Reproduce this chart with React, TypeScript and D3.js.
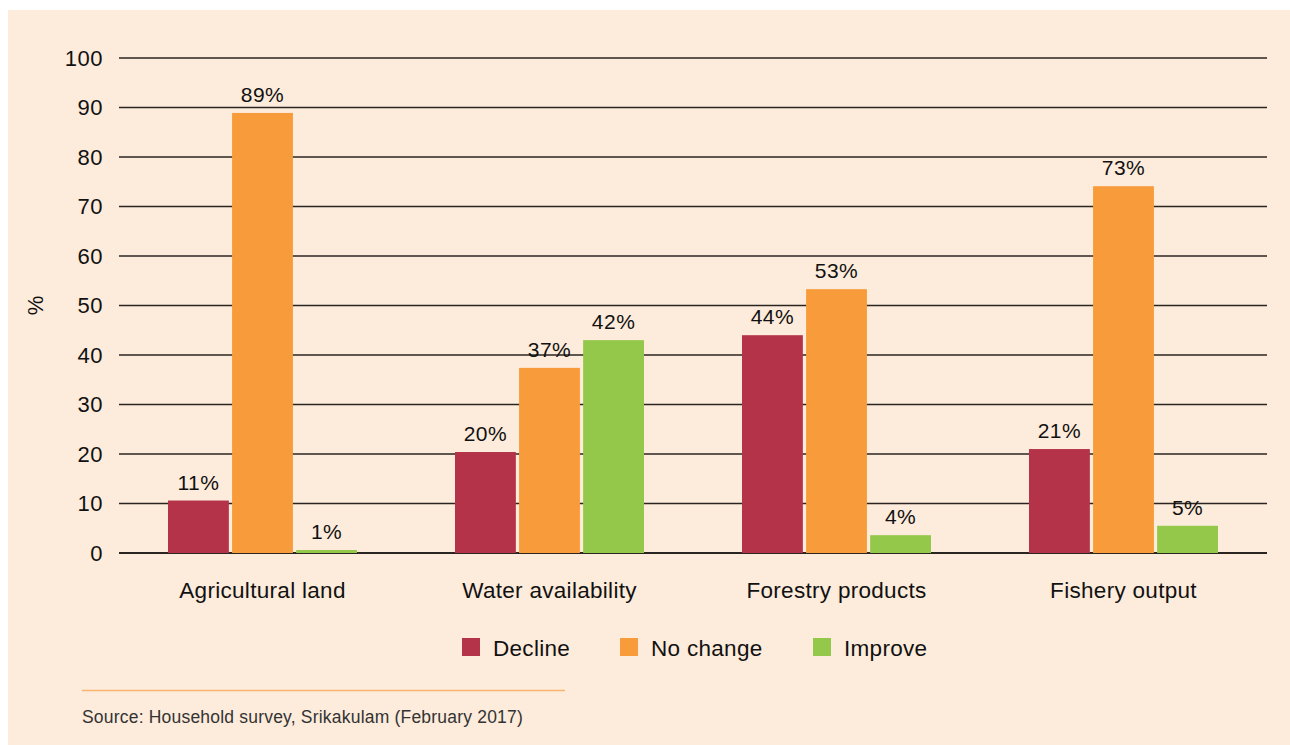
import React, { useEffect, useRef } from 'react';
import * as d3 from 'd3';

const categories = ['Agricultural land', 'Water availability', 'Forestry products', 'Fishery output'];
const seriesNames = ['Decline', 'No change', 'Improve'];
const seriesColors = ['#b43349', '#f89c3b', '#93c84a'];

// bar heights
const declineValues = [10.6, 20.4, 44.0, 21.0];
const noChangeValues = [88.9, 37.4, 53.3, 74.1];
const improveValues = [0.6, 43.0, 3.6, 5.5];

// printed labels
const declineLabels = ['11%', '20%', '44%', '21%'];
const noChangeLabels = ['89%', '37%', '53%', '73%'];
const improveLabels = ['1%', '42%', '4%', '5%'];

const yTicks = [0, 10, 20, 30, 40, 50, 60, 70, 80, 90, 100];
const sourceText = 'Source: Household survey, Srikakulam (February 2017)';

const WIDTH = 1290;
const HEIGHT = 745;
const FONT = '"Liberation Sans", Arial, sans-serif';

const App: React.FC = () => {
  const svgRef = useRef<SVGSVGElement>(null);

  useEffect(() => {
    if (!svgRef.current) return;
    const svg = d3.select(svgRef.current);
    svg.selectAll('*').remove();

    const margin = { top: 58, right: 23, bottom: 192, left: 119 };
    const innerWidth = WIDTH - margin.left - margin.right;
    const innerHeight = HEIGHT - margin.top - margin.bottom;

    // background panel
    svg.append('rect')
      .attr('x', 8)
      .attr('y', 10)
      .attr('width', WIDTH - 8)
      .attr('height', HEIGHT - 10)
      .attr('fill', '#fdebdb');

    const x0 = d3.scaleBand<string>()
      .domain(categories)
      .range([0, innerWidth])
      .padding(0);

    const x1 = d3.scaleBand<string>()
      .domain(seriesNames)
      .range([49, x0.bandwidth() - 49])
      .paddingInner(0.05);

    const y = d3.scaleLinear()
      .domain([0, 100])
      .range([innerHeight, 0]);

    const g = svg.append('g')
      .attr('transform', `translate(${margin.left},${margin.top})`);

    // grid lines
    g.append('g')
      .selectAll('line')
      .data(yTicks)
      .enter().append('line')
      .attr('x1', 0)
      .attr('x2', innerWidth)
      .attr('y1', d => y(d))
      .attr('y2', d => y(d))
      .attr('stroke', '#2b2522')
      .attr('stroke-width', d => (d === 0 ? 1.8 : 1.4));

    // y tick labels
    g.append('g')
      .selectAll('text')
      .data(yTicks)
      .enter().append('text')
      .attr('x', -16)
      .attr('y', d => y(d))
      .attr('dy', '0.35em')
      .attr('text-anchor', 'end')
      .style('font-family', FONT)
      .style('font-size', '22px')
      .style('letter-spacing', '0.5px')
      .style('fill', '#111')
      .text(d => d);

    // y axis label
    svg.append('text')
      .attr('transform', `translate(43,${margin.top + y(50)}) rotate(-90)`)
      .attr('text-anchor', 'middle')
      .style('font-family', FONT)
      .style('font-size', '22px')
      .style('fill', '#111')
      .text('%');

    const series = [
      { name: seriesNames[0], values: declineValues, labels: declineLabels, color: seriesColors[0] },
      { name: seriesNames[1], values: noChangeValues, labels: noChangeLabels, color: seriesColors[1] },
      { name: seriesNames[2], values: improveValues, labels: improveLabels, color: seriesColors[2] },
    ];

    series.forEach(s => {
      const rows = categories.map((c, i) => ({ c, v: s.values[i], label: s.labels[i] }));
      const bx = (c: string) => (x0(c) || 0) + (x1(s.name) || 0);

      g.append('g')
        .selectAll('rect')
        .data(rows)
        .enter().append('rect')
        .attr('x', d => bx(d.c))
        .attr('y', d => y(d.v))
        .attr('width', x1.bandwidth())
        .attr('height', d => innerHeight - y(d.v))
        .attr('fill', s.color);

      g.append('g')
        .selectAll('text')
        .data(rows)
        .enter().append('text')
        .attr('x', d => bx(d.c) + x1.bandwidth() / 2)
        .attr('y', d => y(d.v) - 11)
        .attr('text-anchor', 'middle')
        .style('font-family', FONT)
        .style('font-size', '21px')
        .style('letter-spacing', '0.5px')
        .style('fill', '#111')
        .text(d => d.label);
    });

    // category labels
    g.append('g')
      .selectAll('text')
      .data(categories)
      .enter().append('text')
      .attr('x', d => (x0(d) || 0) + x0.bandwidth() / 2)
      .attr('y', innerHeight + 45)
      .attr('text-anchor', 'middle')
      .style('font-family', FONT)
      .style('font-size', '22.5px')
      .style('letter-spacing', '0.3px')
      .style('fill', '#111')
      .text(d => d);

    // legend
    const legendX = [462, 620, 813];
    const legend = svg.append('g').attr('transform', 'translate(0,638)');
    seriesNames.forEach((name, i) => {
      legend.append('rect')
        .attr('x', legendX[i])
        .attr('y', 0)
        .attr('width', 18)
        .attr('height', 18)
        .attr('fill', seriesColors[i]);
      legend.append('text')
        .attr('x', legendX[i] + 31)
        .attr('y', 18)
        .style('font-family', FONT)
        .style('font-size', '22.5px')
        .style('letter-spacing', '0.3px')
        .style('fill', '#111')
        .text(name);
    });

    // source
    svg.append('line')
      .attr('x1', 82)
      .attr('x2', 565)
      .attr('y1', 690.5)
      .attr('y2', 690.5)
      .attr('stroke', '#f9b56e')
      .attr('stroke-width', 1.5);

    svg.append('text')
      .attr('x', 82)
      .attr('y', 723)
      .style('font-family', FONT)
      .style('font-size', '17.5px')
      .style('letter-spacing', '0.2px')
      .style('fill', '#333')
      .text(sourceText);
  }, []);

  return (
    <svg
      ref={svgRef}
      width={WIDTH}
      height={HEIGHT}
      style={{ position: 'absolute', left: 0, top: 0, background: '#fff' }}
    />
  );
};

export default App;
